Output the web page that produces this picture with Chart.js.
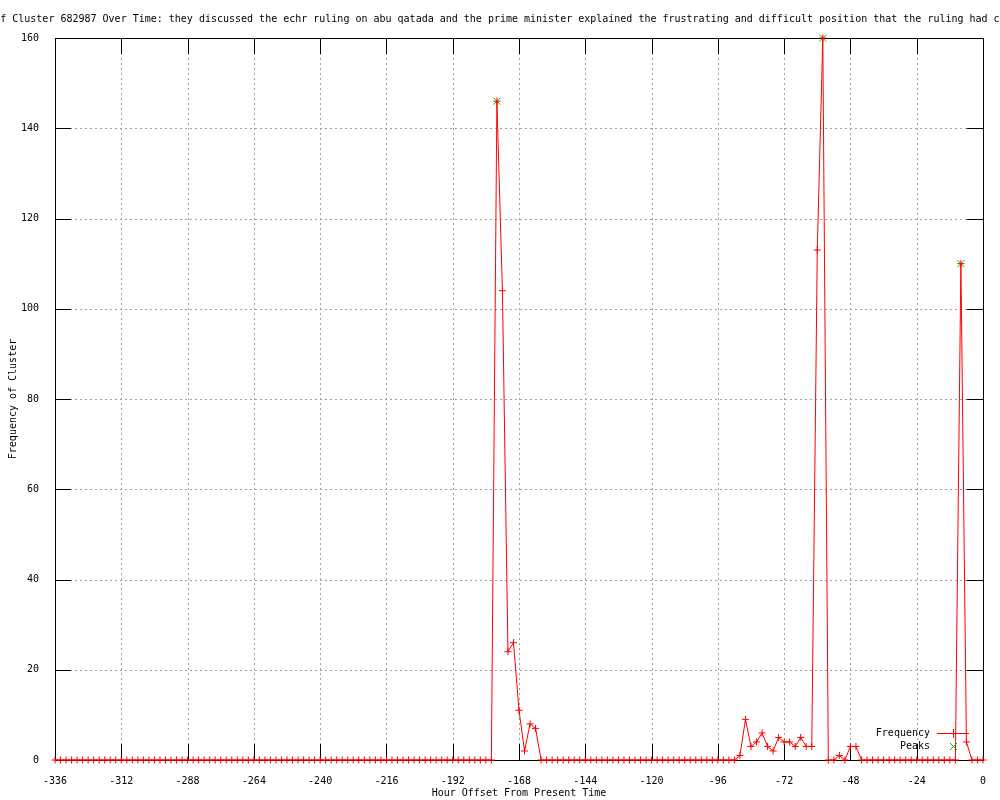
<!DOCTYPE html>
<html>
<head>
<meta charset="utf-8">
<script src="https://cdn.jsdelivr.net/npm/chart.js@4/dist/chart.umd.min.js"></script>
<style>
  html, body { margin: 0; padding: 0; background: #ffffff; }
  #wrap { width: 1000px; height: 800px; }
</style>
</head>
<body>
<div id="wrap"><canvas id="c" width="1000" height="800"></canvas></div>
<script>
const chartTitle = "Frequency of Cluster 682987 Over Time: they discussed the echr ruling on abu qatada and the prime minister explained the frustrating and difficult position that the ruling had created";
const xAxisTitle = "Hour Offset From Present Time";
const yAxisTitle = "Frequency of Cluster";

const hours = [
  -336,-334,-332,-330,-328,-326,-324,-322,-320,-318,-316,-314,
  -312,-310,-308,-306,-304,-302,-300,-298,-296,-294,-292,-290,
  -288,-286,-284,-282,-280,-278,-276,-274,-272,-270,-268,-266,
  -264,-262,-260,-258,-256,-254,-252,-250,-248,-246,-244,-242,
  -240,-238,-236,-234,-232,-230,-228,-226,-224,-222,-220,-218,
  -216,-214,-212,-210,-208,-206,-204,-202,-200,-198,-196,-194,
  -192,-190,-188,-186,-184,-182,-180,-178,-176,-174,-172,-170,
  -168,-166,-164,-162,-160,-158,-156,-154,-152,-150,-148,-146,
  -144,-142,-140,-138,-136,-134,-132,-130,-128,-126,-124,-122,
  -120,-118,-116,-114,-112,-110,-108,-106,-104,-102,-100,-98,
  -96,-94,-92,-90,-88,-86,-84,-82,-80,-78,-76,-74,
  -72,-70,-68,-66,-64,-62,-60,-58,-56,-54,-52,-50,
  -48,-46,-44,-42,-40,-38,-36,-34,-32,-30,-28,-26,
  -24,-22,-20,-18,-16,-14,-12,-10,-8,-6,-4,-2,
  0
];

const frequency = [
  0,0,0,0,0,0,0,0,0,0,0,0,
  0,0,0,0,0,0,0,0,0,0,0,0,
  0,0,0,0,0,0,0,0,0,0,0,0,
  0,0,0,0,0,0,0,0,0,0,0,0,
  0,0,0,0,0,0,0,0,0,0,0,0,
  0,0,0,0,0,0,0,0,0,0,0,0,
  0,0,0,0,0,0,0,0,146,104,24,26,
  11,2,8,7,0,0,0,0,0,0,0,0,
  0,0,0,0,0,0,0,0,0,0,0,0,
  0,0,0,0,0,0,0,0,0,0,0,0,
  0,0,0,0,1,9,3,4,6,3,2,5,
  4,4,3,5,3,3,113,160,0,0,1,0,
  3,3,0,0,0,0,0,0,0,0,0,0,
  0,0,0,0,0,0,0,0,110,4,0,0,
  0
];

const peakHours = [-176, -58, -8];
const peakValues = [146, 160, 110];

const xTicks = { min: -336, max: 0, step: 24 };
const yTicks = { min: 0, max: 160, step: 20 };

const FONT = '"DejaVu Sans Mono", "Liberation Mono", monospace';
const RED = '#ff0000';
const GREEN = '#00c000';
const legendColors = [RED, GREEN];

Chart.defaults.font.family = FONT;
Chart.defaults.font.size = 10;
Chart.defaults.color = '#000000';

const framePlugin = {
  id: 'gnuFrame',
  beforeDatasetsDraw(chart) {
    const { ctx, chartArea: a, scales: { x, y } } = chart;
    const TL = 16;
    ctx.save();
    ctx.lineWidth = 1;
    ctx.strokeStyle = '#a0a0a0';
    ctx.setLineDash([2, 3]);
    ctx.beginPath();
    x.ticks.forEach(t => {
      if (t.value > x.min && t.value < x.max) {
        const px = Math.round(x.getPixelForValue(t.value)) + 0.5;
        ctx.moveTo(px, a.top); ctx.lineTo(px, a.bottom);
      }
    });
    y.ticks.forEach(t => {
      if (t.value > y.min && t.value < y.max) {
        const py = Math.round(y.getPixelForValue(t.value)) + 0.5;
        ctx.moveTo(a.left, py); ctx.lineTo(a.right, py);
      }
    });
    ctx.stroke();
    ctx.setLineDash([]);
    ctx.strokeStyle = '#000000';
    ctx.beginPath();
    x.ticks.forEach(t => {
      const px = Math.round(x.getPixelForValue(t.value)) + 0.5;
      ctx.moveTo(px, a.bottom); ctx.lineTo(px, a.bottom - TL);
      ctx.moveTo(px, a.top); ctx.lineTo(px, a.top + TL);
    });
    y.ticks.forEach(t => {
      const py = Math.round(y.getPixelForValue(t.value)) + 0.5;
      ctx.moveTo(a.left, py); ctx.lineTo(a.left + TL, py);
      ctx.moveTo(a.right, py); ctx.lineTo(a.right - TL, py);
    });
    ctx.stroke();
    ctx.strokeRect(Math.round(a.left) + 0.5, Math.round(a.top) + 0.5,
                   Math.round(a.right - a.left), Math.round(a.bottom - a.top));
    ctx.restore();
  },
  afterDraw(chart) {
    const ctx = chart.ctx;
    ctx.save();
    ctx.font = '10px ' + FONT;
    ctx.fillStyle = '#000000';
    ctx.textAlign = 'left';
    ctx.textBaseline = 'middle';
    ctx.fillText(chartTitle, -66, 19);
    // legend
    ctx.textAlign = 'right';
    const ds = chart.data.datasets;
    const rows = [733, 746];
    const textRight = 930, sx1 = 937, sx2 = 969, sc = 953;
    ds.forEach((d, i) => {
      const yy = rows[i];
      ctx.fillStyle = '#000000';
      ctx.fillText(d.label, textRight, yy);
      ctx.fillStyle = legendColors[i];
      if (i === 0) {
        ctx.fillRect(sx1, yy, sx2 - sx1, 1);
        ctx.fillRect(sc, yy - 4, 1, 9);
      } else {
        for (let k = -3; k <= 3; k++) {
          ctx.fillRect(sc + k, yy + k, 1, 1);
          ctx.fillRect(sc + k, yy - k, 1, 1);
        }
      }
    });
    ctx.restore();
  }
};

new Chart(document.getElementById('c'), {
  type: 'line',
  data: {
    datasets: [
      {
        label: 'Frequency',
        data: hours.map((h, i) => ({ x: h, y: frequency[i] })),
        borderColor: RED,
        backgroundColor: RED,
        borderWidth: 1,
        pointStyle: 'cross',
        pointRadius: 3.5,
        pointBorderWidth: 1,
        pointBorderColor: RED,
        pointHoverRadius: 3.5,
        tension: 0,
        fill: false,
        clip: false
      },
      {
        label: 'Peaks',
        data: peakHours.map((h, i) => ({ x: h, y: peakValues[i] })),
        borderColor: GREEN,
        backgroundColor: GREEN,
        showLine: false,
        pointStyle: 'crossRot',
        pointRadius: 5,
        pointBorderWidth: 1,
        pointBorderColor: GREEN,
        clip: false
      }
    ]
  },
  options: {
    responsive: false,
    animation: false,
    events: [],
    layout: { padding: { top: 38, right: 17, left: 0, bottom: 0 } },
    plugins: {
      legend: { display: false },
      title: { display: false },
      tooltip: { enabled: false }
    },
    scales: {
      x: {
        type: 'linear',
        min: xTicks.min,
        max: xTicks.max,
        grid: { display: false },
        border: { display: false },
        ticks: {
          stepSize: xTicks.step,
          autoSkip: false,
          maxRotation: 0,
          padding: 7,
          color: '#000000',
          callback: v => String(v)
        },
        title: { display: true, text: xAxisTitle, color: '#000000', padding: { top: 0, bottom: 1 } },
        afterFit: s => { s.height = 40; }
      },
      y: {
        min: yTicks.min,
        max: yTicks.max,
        grid: { display: false },
        border: { display: false },
        ticks: {
          stepSize: yTicks.step,
          padding: 8,
          color: '#000000',
          callback: v => String(v)
        },
        title: { display: true, text: yAxisTitle, color: '#000000', padding: { top: 7, bottom: 0 } },
        afterFit: s => { s.width = 55; }
      }
    }
  },
  plugins: [framePlugin]
});
</script>
</body>
</html>
